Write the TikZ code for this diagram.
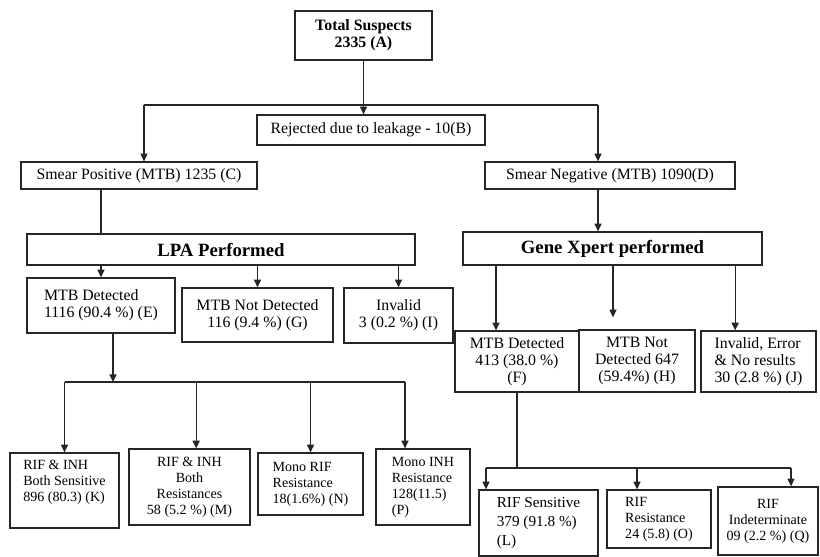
\documentclass[tikz,border=0pt]{standalone}
\usepackage{fontspec}
\setmainfont{Liberation Serif}
\usetikzlibrary{arrows.meta}
\newcommand{\boxfont}{\fontsize{13.5}{14.5}\selectfont}
\newcommand{\smallfont}{\fontsize{12}{13.7}\selectfont}
\newcommand{\headfont}{\fontsize{16}{18}\selectfont\bfseries}

\begin{document}
\begin{tikzpicture}[x=0.03cm, y=-0.03cm,
        box/.style={draw=black!85, line width=1.1pt, inner sep=2pt, align=center, font=\boxfont},
        smallbox/.style={box, font=\smallfont},
        headbox/.style={box, font=\headfont},
        line/.style={draw=black!85, line width=1.1pt},
        arr/.style={-{Triangle[length=6.5pt,width=6pt]}}]
    \useasboundingbox (0,0) rectangle (820,556);

    % top levels
    \node[box, font=\boxfont\bfseries, minimum width=4.11cm, minimum height=1.47cm] (a) at (363.5,35.5) {Total Suspects\\2335 (A)};
    \node[box, minimum width=6.84cm, minimum height=0.9cm] (b) at (371,130) {Rejected due to leakage - 10(B)};
    \node[box, minimum width=7.08cm, minimum height=0.81cm] (c) at (139,175.5) {Smear Positive (MTB) 1235 (C)};
    \node[box, minimum width=7.5cm, minimum height=0.81cm] (d) at (610,175.5) {Smear Negative (MTB) 1090(D)};
    \node[headbox, minimum width=11.64cm, minimum height=0.93cm] (lpa) at (221,249.5) {LPA Performed};
    \node[headbox, minimum width=8.97cm, minimum height=0.99cm] (gx) at (612.5,248.5) {Gene Xpert performed};

    % results of LPA and Gene Xpert
    \node[box, align=left, minimum width=4.44cm, minimum height=1.65cm] (e) at (101,305.5) {MTB Detected\\1116 (90.4 \%) (E)};
    \node[box, minimum width=4.53cm, minimum height=1.62cm] (g) at (257.5,315) {MTB Not Detected\\116 (9.4 \%) (G)};
    \node[box, minimum width=3.27cm, minimum height=1.65cm] (i) at (398.5,315.5) {Invalid\\3 (0.2 \%) (I)};
    \node[box, minimum width=3.72cm, minimum height=1.83cm] (f) at (517,361.5) {MTB Detected\\413 (38.0 \%)\\(F)};
    \node[box, minimum width=3.48cm, minimum height=1.86cm] (h) at (637,361) {MTB Not\\Detected 647\\(59.4\%) (H)};
    \node[box, align=left, minimum width=3.45cm, minimum height=1.83cm] (j) at (758.5,361.5) {Invalid, Error\\\& No results\\30 (2.8 \%) (J)};

    % resistance patterns
    \node[smallbox, align=left, text depth=0.56cm, minimum width=3.27cm, minimum height=2.25cm] (k) at (64.5,490.5) {RIF \& INH\\Both Sensitive\\896 (80.3) (K)};
    \node[smallbox, minimum width=3.63cm, minimum height=2.28cm] (m) at (189.5,487) {RIF \& INH\\Both\\Resistances\\58 (5.2 \%) (M)};
    \node[smallbox, align=left, minimum width=3.15cm, minimum height=1.86cm] (n) at (310.5,484) {Mono RIF\\Resistance\\18(1.6\%) (N)};
    \node[smallbox, align=left, minimum width=2.82cm, minimum height=2.28cm] (p) at (423,487) {Mono INH\\Resistance\\128(11.5)\\(P)};
    \node[box, align=left, font=\fontsize{13}{16}\selectfont, minimum width=3.57cm, minimum height=1.98cm] (l) at (538.5,523) {RIF Sensitive\\379 (91.8 \%)\\(L)};
    \node[smallbox, align=left, minimum width=3.12cm, minimum height=1.74cm] (o) at (659,519) {RIF\\Resistance\\24 (5.8) (O)};
    \node[smallbox, minimum width=3cm, minimum height=2.04cm] (q) at (768,521) {RIF\\Indeterminate\\09 (2.2 \%) (Q)};

    % joints and arrow ends
    \coordinate (splitl) at (144,105);
    \coordinate (splitr) at (598,105);
    \coordinate (ftop) at ([xshift=-0.63cm]f.north);
    \coordinate (htop) at ([xshift=-0.72cm,yshift=0.36cm]h.north);
    \coordinate (jtop) at ([xshift=-0.7cm]j.north);
    \coordinate (lpajoin) at (113,382);
    \coordinate (mtop) at ([xshift=0.2cm]m.north);
    \coordinate (ptop) at ([xshift=-0.54cm]p.north);
    \coordinate (xpjoin) at (517,468);
    \coordinate (ltop) at ([xshift=-1.575cm]l.north);
    \coordinate (otop) at ([xshift=-0.66cm]o.north);
    \coordinate (qtop) at ([xshift=0.69cm]q.north);

    \draw[line, arr] (a.south) -- (a.south |- b.north);
    \draw[line] (splitl) -- (splitr);
    \draw[line, arr] (splitl) -- (splitl |- c.north);
    \draw[line, arr] (splitr) -- (splitr |- d.north);

    % LPA side
    \draw[line] (c.south -| e.north) -- (lpa.north -| e.north);
    \foreach \t in {e.north, g.north, i.north}
        \draw[line, arr] (lpa.south -| \t) -- (\t);
    \draw[line, arr] (e.south -| lpajoin) -- (lpajoin);
    \draw[line] (k.north |- lpajoin) -- (ptop |- lpajoin);
    \foreach \t in {k.north, mtop, n.north, ptop}
        \draw[line, arr] (\t |- lpajoin) -- (\t);

    % Gene Xpert side
    \draw[line, arr] (splitr |- d.south) -- (splitr |- gx.north);
    \foreach \t in {ftop, htop, jtop}
        \draw[line, arr] (gx.south -| \t) -- (\t);
    \draw[line] (f.south) -- (xpjoin);
    \draw[line] (ltop |- xpjoin) -- (qtop |- xpjoin);
    \foreach \t in {ltop, otop, qtop}
        \draw[line, arr] (\t |- xpjoin) -- (\t);
\end{tikzpicture}
\end{document}
